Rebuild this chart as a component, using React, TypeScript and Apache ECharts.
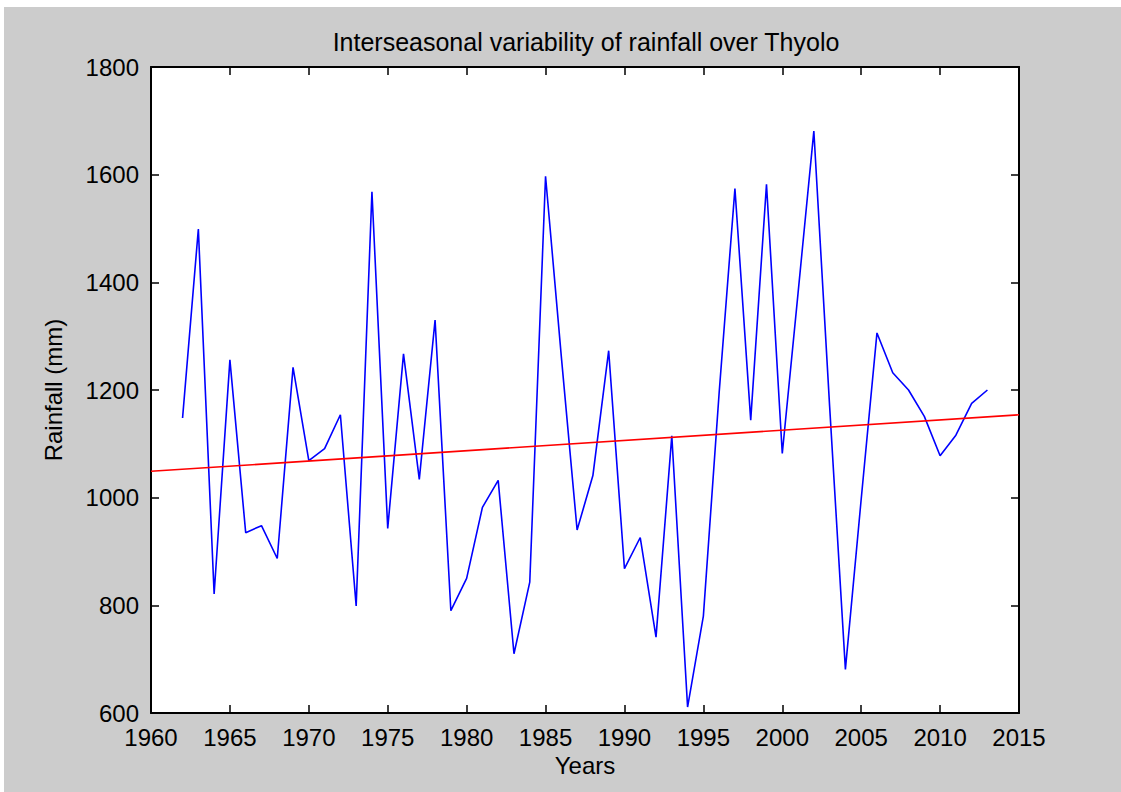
import React, { useEffect, useRef } from "react";
import * as echarts from "echarts";

// Seasonal rainfall totals over Thyolo (mm)
const years: number[] = [
  1962, 1963, 1964, 1965, 1966, 1967, 1968, 1969, 1970, 1971, 1972, 1973, 1974,
  1975, 1976, 1977, 1978, 1979, 1980, 1981, 1982, 1983, 1984, 1985, 1986, 1987,
  1988, 1989, 1990, 1991, 1992, 1993, 1994, 1995, 1996, 1997, 1998, 1999, 2000,
  2001, 2002, 2003, 2004, 2005, 2006, 2007, 2008, 2009, 2010, 2011, 2012, 2013,
];
const rainfall: number[] = [
  1148, 1499, 821, 1256, 935, 948, 887, 1242, 1069, 1091, 1154, 799, 1568,
  943, 1267, 1034, 1330, 790, 850, 982, 1032, 710, 843, 1597, 1262, 940,
  1041, 1273, 868, 926, 741, 1115, 611, 780, 1195, 1574, 1144, 1582, 1082,
  1380, 1681, 1170, 681, 997, 1306, 1232, 1200, 1151, 1078, 1116, 1175, 1200,
];

// Linear trend line end points
const trendYears: number[] = [1960, 2015];
const trendValues: number[] = [1049, 1154];

// Axis ranges and tick spacing
const xTicks = { min: 1960, max: 2015, step: 5 };
const yTicks = { min: 600, max: 1800, step: 200 };

const FONT = "'Liberation Sans', Arial, Helvetica, sans-serif";

export default function App() {
  const ref = useRef<HTMLDivElement>(null);

  useEffect(() => {
    if (!ref.current) return;
    const chart = echarts.init(ref.current, undefined, { renderer: "svg" });

    const tickStyle = { show: true, inside: true, length: 8, lineStyle: { color: "#000", width: 1.5 } };
    const lineStyle = { show: true, onZero: false, lineStyle: { color: "#000", width: 2 } };
    const labelStyle = { color: "#000", fontSize: 24, lineHeight: 24, fontFamily: FONT };
    const nameStyle = { color: "#000", fontSize: 24, fontFamily: FONT };

    chart.setOption({
      animation: false,
      backgroundColor: "#cccccc",
      title: {
        text: "Interseasonal variability of rainfall over Thyolo",
        left: 577,
        top: 17,
        textAlign: "center",
        textStyle: { color: "#000", fontSize: 25, fontWeight: "normal", fontFamily: FONT },
      },
      grid: {
        left: 147,
        top: 60,
        width: 868,
        height: 646,
        show: true,
        backgroundColor: "#ffffff",
        borderWidth: 0,
      },
      xAxis: [
        {
          type: "value",
          position: "bottom",
          min: xTicks.min,
          max: xTicks.max,
          interval: xTicks.step,
          name: "Years",
          nameLocation: "middle",
          nameGap: 40,
          nameTextStyle: nameStyle,
          axisLine: lineStyle,
          axisTick: tickStyle,
          axisLabel: { ...labelStyle, margin: 12, formatter: (v: number) => String(v) },
          splitLine: { show: false },
        },
        {
          type: "value",
          position: "top",
          min: xTicks.min,
          max: xTicks.max,
          interval: xTicks.step,
          axisLine: lineStyle,
          axisTick: tickStyle,
          axisLabel: { show: false },
          splitLine: { show: false },
        },
      ],
      yAxis: [
        {
          type: "value",
          position: "left",
          min: yTicks.min,
          max: yTicks.max,
          interval: yTicks.step,
          name: "Rainfall (mm)",
          nameLocation: "middle",
          nameGap: 86,
          nameTextStyle: nameStyle,
          axisLine: lineStyle,
          axisTick: tickStyle,
          axisLabel: { ...labelStyle, margin: 12, formatter: (v: number) => String(v) },
          splitLine: { show: false },
        },
        {
          type: "value",
          position: "right",
          min: yTicks.min,
          max: yTicks.max,
          interval: yTicks.step,
          axisLine: lineStyle,
          axisTick: tickStyle,
          axisLabel: { show: false },
          splitLine: { show: false },
        },
      ],
      series: [
        {
          type: "line",
          xAxisIndex: 0,
          yAxisIndex: 0,
          data: years.map((y, i) => [y, rainfall[i]]),
          showSymbol: false,
          symbol: "none",
          lineStyle: { color: "#0000ff", width: 1.6 },
          z: 3,
        },
        {
          type: "line",
          xAxisIndex: 0,
          yAxisIndex: 0,
          data: trendYears.map((y, i) => [y, trendValues[i]]),
          showSymbol: false,
          symbol: "none",
          lineStyle: { color: "#ff0000", width: 1.6 },
          z: 4,
        },
      ],
    });

    return () => chart.dispose();
  }, []);

  return (
    <div style={{ position: "fixed", left: 0, top: 0, width: 1121, height: 792, background: "#ffffff" }}>
      <div ref={ref} style={{ position: "absolute", left: 4, top: 7, width: 1117, height: 785 }} />
    </div>
  );
}
